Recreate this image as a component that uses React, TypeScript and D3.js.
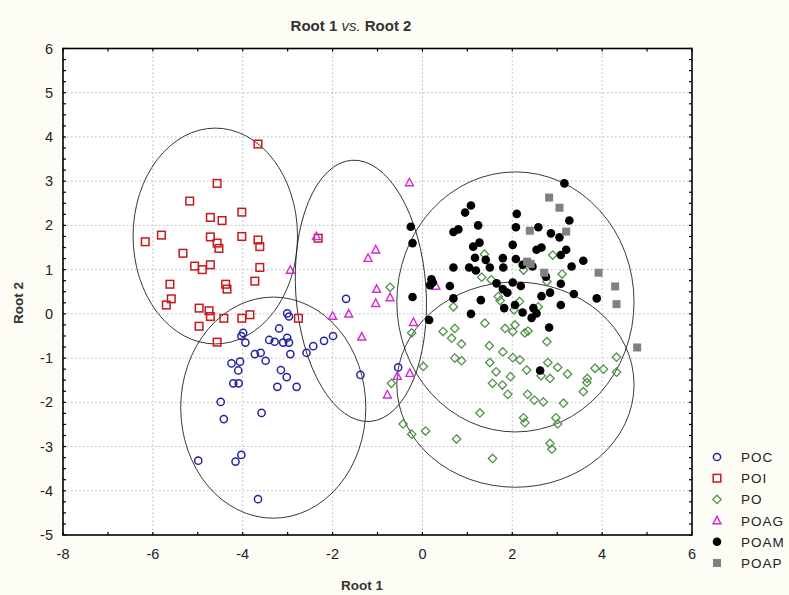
import React from "react";
import * as d3 from "d3";

const W = 789;
const H = 595;

// Series: [Root1, Root2]
const POC: [number, number][] = [
  [-1.70, 0.34], [-3.01, 0.01], [-2.97, -0.06], [-3.99, -0.43], [-4.03, -0.50], [-3.94, -0.65],
  [-3.19, -0.33], [-3.41, -0.59], [-3.29, -0.63], [-3.01, -0.54], [-3.10, -0.65], [-2.97, -0.65],
  [-2.94, -0.91], [-3.73, -0.91], [-3.60, -0.88], [-3.49, -1.06], [-4.25, -1.12], [-4.06, -1.08],
  [-4.10, -1.28], [-3.15, -1.27], [-3.02, -1.43], [-3.23, -1.65], [-2.80, -1.65], [-4.21, -1.57],
  [-4.09, -1.57], [-2.58, -0.88], [-2.43, -0.73], [-2.19, -0.61], [-1.99, -0.50], [-1.38, -1.38],
  [-4.49, -1.99], [-4.42, -2.38], [-3.58, -2.24], [-4.99, -3.32], [-4.16, -3.34], [-4.03, -3.19],
  [-3.66, -4.19], [-0.54, -1.21],
];

const POI: [number, number][] = [
  [-3.66, 3.84], [-4.57, 2.95], [-5.18, 2.55], [-4.72, 2.18], [-4.46, 2.11], [-4.02, 2.30],
  [-6.17, 1.63], [-5.81, 1.78], [-4.72, 1.74], [-4.57, 1.60], [-4.53, 1.48], [-4.02, 1.75],
  [-3.66, 1.67], [-3.62, 1.52], [-5.33, 1.37], [-5.07, 1.08], [-4.90, 1.00], [-4.72, 1.11],
  [-3.62, 1.05], [-3.73, 0.74], [-4.38, 0.67], [-4.35, 0.56], [-5.62, 0.67], [-5.59, 0.34],
  [-5.70, 0.20], [-4.97, 0.13], [-4.75, 0.07], [-4.72, -0.06], [-4.42, -0.10], [-4.02, -0.10],
  [-3.84, -0.02], [-4.97, -0.28], [-4.57, -0.64], [-2.76, -0.10], [-2.32, 1.71],
];

const PO: [number, number][] = [
  [-0.72, 0.60], [-0.24, -0.43], [-0.69, -1.57], [1.38, 1.35], [2.90, 1.33], [2.25, 0.99],
  [1.32, 0.83], [1.53, 0.77], [3.11, 0.90], [2.77, 0.73], [1.69, 0.39], [1.73, 0.30],
  [0.69, 0.16], [2.16, 0.28], [2.04, 0.09], [2.58, 0.16], [1.39, -0.21], [0.72, -0.33],
  [0.46, -0.40], [0.65, -0.55], [1.84, -0.33], [2.06, -0.25], [2.01, -0.40], [2.28, -0.43],
  [2.35, -0.39], [2.77, -0.63], [0.87, -0.68], [1.49, -0.72], [1.79, -0.86], [0.72, -1.00],
  [0.87, -1.06], [1.50, -1.10], [2.01, -0.99], [2.17, -1.04], [4.32, -0.98], [0.02, -1.19],
  [2.79, -1.10], [3.01, -1.21], [3.23, -1.36], [3.84, -1.23], [4.03, -1.25], [4.32, -1.32],
  [3.67, -1.46], [3.66, -1.55], [3.58, -1.76], [1.64, -1.31], [1.96, -1.42], [2.32, -1.27],
  [2.64, -1.40], [2.84, -1.46], [1.56, -1.57], [1.78, -1.61], [1.90, -1.82], [2.34, -1.82],
  [2.49, -1.95], [2.69, -1.99], [3.14, -2.02], [1.28, -2.24], [2.25, -2.35], [2.28, -2.46],
  [2.97, -2.35], [3.01, -2.49], [-0.43, -2.49], [-0.24, -2.72], [0.07, -2.65], [0.76, -2.83],
  [2.84, -2.93], [2.88, -3.06], [1.56, -3.27],
];

const POAG: [number, number][] = [
  [-0.29, 2.97], [-2.36, 1.75], [-1.04, 1.45], [-1.21, 1.26], [-2.94, 0.99], [-1.02, 0.56],
  [-0.72, 0.37], [-1.04, 0.24], [-2.00, -0.05], [-1.64, 0.00], [-1.35, -0.52], [-0.20, -0.19],
  [-0.28, -1.34], [-0.56, -1.41], [-0.78, -1.83], [0.30, 0.63],
];

const POAM: [number, number][] = [
  [3.16, 2.95], [1.08, 2.45], [0.95, 2.29], [2.10, 2.26], [3.27, 2.11], [-0.26, 1.97],
  [1.24, 2.00], [0.80, 1.91], [0.69, 1.85], [2.08, 1.96], [2.58, 1.96], [2.86, 1.82],
  [3.05, 1.73], [-0.22, 1.60], [1.27, 1.61], [1.13, 1.52], [2.01, 1.56], [2.65, 1.50],
  [2.54, 1.45], [3.20, 1.45], [3.08, 1.33], [1.17, 1.27], [1.41, 1.22], [1.79, 1.26],
  [2.08, 1.24], [2.23, 1.11], [2.45, 1.07], [3.58, 1.20], [3.32, 1.07], [0.69, 1.05],
  [1.04, 1.05], [1.19, 0.98], [1.50, 1.05], [1.80, 1.05], [0.20, 0.78], [0.17, 0.65],
  [0.23, 0.71], [0.61, 0.63], [1.65, 0.69], [2.01, 0.71], [2.19, 0.63], [2.75, 0.84],
  [3.08, 0.68], [1.79, 0.56], [1.89, 0.48], [-0.22, 0.38], [0.69, 0.35], [1.30, 0.31],
  [2.84, 0.48], [2.65, 0.40], [3.37, 0.45], [3.88, 0.35], [2.06, 0.20], [1.82, 0.13],
  [3.08, 0.20], [2.23, 0.03], [2.47, 0.13], [2.54, 0.01], [2.43, -0.09], [1.08, 0.00],
  [0.15, -0.14], [2.82, -0.31], [2.62, -1.28],
];

const POAP: [number, number][] = [
  [3.05, 2.40], [2.82, 2.63], [2.39, 1.88], [3.20, 1.86], [2.33, 1.18], [2.41, 1.13],
  [2.71, 0.93], [3.92, 0.93], [4.29, 0.62], [4.32, 0.22], [4.78, -0.76],
];

// Confidence ellipses: centre x, centre y, radius x, radius y, tilt (deg)
const ELLIPSES: { cx: number; cy: number; rx: number; ry: number; rot: number }[] = [
  { cx: -4.61, cy: 1.76, rx: 1.83, ry: 2.44, rot: 0 },
  { cx: -3.32, cy: -2.12, rx: 2.06, ry: 2.50, rot: 0 },
  { cx: -1.37, cy: 0.52, rx: 1.45, ry: 2.96, rot: -4 },
  { cx: 2.07, cy: 0.27, rx: 2.64, ry: 2.94, rot: 0 },
  { cx: 2.07, cy: -1.60, rx: 2.64, ry: 2.32, rot: 0 },
];

const X_TICKS = [-8, -6, -4, -2, 0, 2, 4, 6];
const Y_TICKS = [-5, -4, -3, -2, -1, 0, 1, 2, 3, 4, 5, 6];
const LEGEND = ["POC", "POI", "PO", "POAG", "POAM", "POAP"];

const COLORS = {
  POC: "#2424a0",
  POI: "#c8181c",
  PO: "#4f9447",
  POAG: "#d42ad4",
  POAM: "#000000",
  POAP: "#808080",
};

const FONT = "Arial, 'Liberation Sans', Helvetica, sans-serif";

function Marker({ kind, x, y }: { kind: string; x: number; y: number }) {
  const c = (COLORS as any)[kind];
  switch (kind) {
    case "POC":
      return <circle cx={x} cy={y} r={3.6} fill="none" stroke={c} strokeWidth={1.5} />;
    case "POI":
      return <rect x={x - 3.8} y={y - 3.8} width={7.6} height={7.6} fill="none" stroke={c} strokeWidth={1.5} />;
    case "PO":
      return (
        <path d={`M${x},${y - 4.2}L${x + 4.2},${y}L${x},${y + 4.2}L${x - 4.2},${y}Z`} fill="none" stroke={c} strokeWidth={1.3} />
      );
    case "POAG":
      return (
        <path d={`M${x},${y - 4.3}L${x + 4},${y + 3.2}L${x - 4},${y + 3.2}Z`} fill="none" stroke={c} strokeWidth={1.4} />
      );
    case "POAM":
      return <circle cx={x} cy={y} r={4.3} fill={c} />;
    default:
      return <rect x={x - 4} y={y - 4} width={8} height={8} fill={c} />;
  }
}

export default function App() {
  const x = d3.scaleLinear().domain([-8, 6]).range([63, 692]);
  const y = d3.scaleLinear().domain([-5, 6]).range([535, 48.5]);
  const [x0, x1] = x.range();
  const [y0, y1] = y.range();

  const xMinor = d3.range(-8, 6.001, 1);
  const yMinor = d3.range(-5, 6.001, 0.25);

  const series: [string, [number, number][]][] = [
    ["PO", PO],
    ["POI", POI],
    ["POC", POC],
    ["POAG", POAG],
    ["POAM", POAM],
    ["POAP", POAP],
  ];

  return (
    <svg
      width={W}
      height={H}
      style={{ position: "absolute", left: 0, top: 0, fontFamily: FONT }}
    >
      <rect x={0} y={0} width={W} height={H} fill="#fdfdf6" />
      <rect x={x0} y={y1} width={x1 - x0} height={y0 - y1} fill="#ffffff" />
      {/* grid */}
      {X_TICKS.slice(1, -1).map((t) => (
        <line key={"gx" + t} x1={x(t)} x2={x(t)} y1={y1} y2={y0} stroke="#b8b8b8" strokeWidth={1} strokeDasharray="1.5,2.5" />
      ))}
      {Y_TICKS.slice(1, -1).map((t) => (
        <line key={"gy" + t} x1={x0} x2={x1} y1={y(t)} y2={y(t)} stroke="#b8b8b8" strokeWidth={1} strokeDasharray="1.5,2.5" />
      ))}
      {/* ticks inward */}
      {xMinor.map((t) => (
        <g key={"tx" + t}>
          <line x1={x(t)} x2={x(t)} y1={y0} y2={y0 - 3} stroke="#000" strokeWidth={1.2} />
          <line x1={x(t)} x2={x(t)} y1={y1} y2={y1 + 3} stroke="#000" strokeWidth={1.2} />
        </g>
      ))}
      {yMinor.map((t) => (
        <g key={"ty" + t}>
          <line x1={x0} x2={x0 + 3} y1={y(t)} y2={y(t)} stroke="#000" strokeWidth={1.2} />
          <line x1={x1} x2={x1 - 3} y1={y(t)} y2={y(t)} stroke="#000" strokeWidth={1.2} />
        </g>
      ))}
      {/* ellipses */}
      {ELLIPSES.map((e, i) => {
        const cx = x(e.cx);
        const cy = y(e.cy);
        return (
          <ellipse
            key={"e" + i}
            cx={cx}
            cy={cy}
            rx={x(e.cx + e.rx) - cx}
            ry={cy - y(e.cy + e.ry)}
            transform={`rotate(${e.rot},${cx},${cy})`}
            fill="none"
            stroke="#222"
            strokeWidth={0.9}
          />
        );
      })}
      {/* points */}
      {series.map(([k, pts]) => (
        <g key={k}>
          {pts.map((p, i) => (
            <Marker key={i} kind={k} x={x(p[0])} y={y(p[1])} />
          ))}
        </g>
      ))}
      {/* frame */}
      <rect x={x0} y={y1} width={x1 - x0} height={y0 - y1} fill="none" stroke="#000" strokeWidth={1.6} />
      {/* tick labels */}
      {X_TICKS.map((t) => (
        <text key={"lx" + t} x={x(t)} y={559} textAnchor="middle" fontSize={14.5} fill="#222">
          {t < 0 ? "-" + Math.abs(t) : String(t)}
        </text>
      ))}
      {Y_TICKS.map((t) => (
        <text key={"ly" + t} x={53} y={y(t) + 5} textAnchor="end" fontSize={14.5} fill="#222">
          {t < 0 ? "-" + Math.abs(t) : String(t)}
        </text>
      ))}
      {/* titles */}
      <text x={351} y={31} textAnchor="middle" fontSize={15} fontWeight="bold" fill="#333">
        Root 1 <tspan fontStyle="italic" fontWeight="normal">vs.</tspan> Root 2
      </text>
      <text x={362} y={590} textAnchor="middle" fontSize={13.5} fontWeight="bold" fill="#333">
        Root 1
      </text>
      <text transform="translate(23,303) rotate(-90)" textAnchor="middle" fontSize={13.5} fontWeight="bold" fill="#333">
        Root 2
      </text>
      {/* legend */}
      {LEGEND.map((k, i) => {
        const ly = 457 + i * 21.2;
        return (
          <g key={"lg" + k}>
            <Marker kind={k} x={717} y={ly} />
            <text x={741} y={ly + 5} fontSize={13.5} letterSpacing={1} fill="#222">
              {k}
            </text>
          </g>
        );
      })}
    </svg>
  );
}
